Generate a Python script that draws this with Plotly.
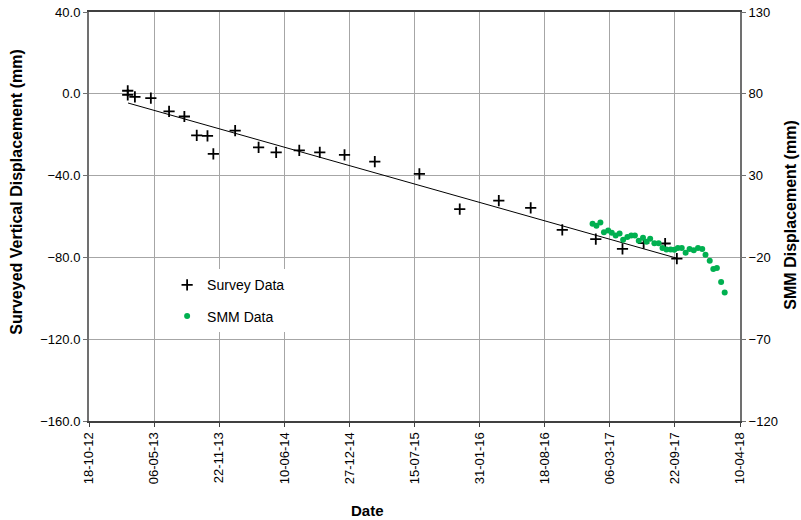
import plotly.graph_objects as go

# ---- data ----
survey_dates = ["2013-02-14", "2013-02-14", "2013-03-08", "2013-04-26", "2013-06-21",
                "2013-08-07", "2013-09-14", "2013-10-17", "2013-11-04", "2014-01-10",
                "2014-03-23", "2014-05-16", "2014-07-26", "2014-09-27", "2014-12-12",
                "2015-03-15", "2015-07-30", "2015-12-01", "2016-03-30", "2016-07-06",
                "2016-10-11", "2017-01-22", "2017-04-14", "2017-06-18", "2017-08-23",
                "2017-09-28"]
survey_vals = [1.5, -0.5, -1.5, -2.1, -8.6, -11.1, -20.3, -20.6, -29.4, -18.0,
               -26.2, -28.6, -27.7, -28.6, -29.9, -33.2, -39.2, -56.4, -52.2, -55.8,
               -66.5, -71.1, -75.8, -73.0, -73.2, -80.6]

trend_dates = ["2013-02-15", "2017-09-26"]
trend_vals = [-4.5, -80.3]

smm_dates = ["2017-01-12", "2017-01-24", "2017-02-05", "2017-02-16", "2017-03-01",
             "2017-03-12", "2017-03-24", "2017-04-05", "2017-04-16", "2017-04-29",
             "2017-05-11", "2017-05-22", "2017-06-03", "2017-06-16", "2017-06-27",
             "2017-07-08", "2017-07-21", "2017-08-03", "2017-08-15", "2017-08-27",
             "2017-09-09", "2017-09-20", "2017-10-01", "2017-10-13", "2017-10-25",
             "2017-11-06", "2017-11-19", "2017-12-02", "2017-12-15", "2017-12-25",
             "2018-01-07", "2018-01-18", "2018-01-29", "2018-02-11", "2018-02-22"]
smm_vals = [0.5, -0.7, 1.3, -4.6, -3.5, -4.9, -6.6, -5.4, -9.2, -7.6,
            -6.6, -6.6, -9.8, -8.0, -10.4, -8.6, -11.3, -11.3, -14.3, -15.1,
            -15.1, -15.3, -14.3, -14.3, -17.1, -14.9, -15.6, -14.3, -14.9, -18.4,
            -22.0, -27.1, -26.5, -35.1, -41.5]

x_tick_dates = ["2012-10-18", "2013-05-06", "2013-11-22", "2014-06-10", "2014-12-27",
                "2015-07-15", "2016-01-31", "2016-08-18", "2017-03-06", "2017-09-22",
                "2018-04-10"]
x_tick_labels = ["18-10-12", "06-05-13", "22-11-13", "10-06-14", "27-12-14",
                 "15-07-15", "31-01-16", "18-08-16", "06-03-17", "22-09-17",
                 "10-04-18"]

FONT = "Liberation Sans, Arial, sans-serif"

fig = go.Figure()

fig.add_trace(go.Scatter(
    x=trend_dates, y=trend_vals, mode="lines",
    line=dict(color="black", width=1), showlegend=False, hoverinfo="skip"))

fig.add_trace(go.Scatter(
    x=survey_dates, y=survey_vals, mode="markers", name="Survey Data",
    legendgroup="a",
    marker=dict(symbol="cross-thin", size=8, line=dict(color="black", width=1.8), color="black")))

fig.add_trace(go.Scatter(
    x=smm_dates, y=smm_vals, mode="markers", name="SMM Data", yaxis="y2",
    legendgroup="b",
    marker=dict(symbol="circle", size=6, color="#00b050")))

fig.update_layout(
    width=801, height=520,
    margin=dict(l=89, r=61, t=12, b=99, autoexpand=False),
    paper_bgcolor="white", plot_bgcolor="white",
    font=dict(family=FONT, size=13, color="black"),
    xaxis=dict(
        type="date", range=[x_tick_dates[0], x_tick_dates[-1]],
        tickvals=x_tick_dates, ticktext=x_tick_labels, tickangle=-90,
        showgrid=True, gridcolor="#a6a6a6", gridwidth=1,
        showline=True, linecolor="#404040", linewidth=2, mirror=True,
        ticks="outside", ticklen=4, tickcolor="#404040",
        tickfont=dict(family=FONT, size=13, color="black"),
        zeroline=False, automargin=False),
    yaxis=dict(
        range=[-160, 40], tick0=-160, dtick=40, tickformat=".1f",
        showgrid=True, gridcolor="#a6a6a6", gridwidth=1,
        showline=True, linecolor="#707070", linewidth=2,
        ticks="outside", ticklen=4, tickcolor="#707070",
        tickfont=dict(family=FONT, size=13, color="black"),
        zeroline=False, automargin=False),
    yaxis2=dict(
        range=[-120, 130], tick0=-120, dtick=50, overlaying="y", side="right",
        showgrid=False, showline=True, linecolor="#707070", linewidth=2,
        ticks="outside", ticklen=4, tickcolor="#707070",
        tickfont=dict(family=FONT, size=13, color="black"),
        zeroline=False, automargin=False),
    legend=dict(
        x=0.12, y=0.371, xanchor="left", yanchor="top",
        bgcolor="white", borderwidth=0,
        font=dict(family=FONT, size=14, color="black"),
        traceorder="grouped", tracegroupgap=10),
    annotations=[
        dict(text="<b>Date</b>", xref="paper", yref="paper", x=0.428, y=-0.218,
             xanchor="center", yanchor="middle", showarrow=False,
             font=dict(family=FONT, size=15, color="black")),
        dict(text="<b>Surveyed Vertical Displacement (mm)</b>", xref="paper", yref="paper",
             x=-0.111, y=0.56, xanchor="center", yanchor="middle", textangle=-90,
             showarrow=False, font=dict(family=FONT, size=16, color="black")),
        dict(text="<b>SMM Displacement (mm)</b>", xref="paper", yref="paper",
             x=1.078, y=0.504, xanchor="center", yanchor="middle", textangle=-90,
             showarrow=False, font=dict(family=FONT, size=16, color="black")),
    ],
)

fig.write_html("out.html", config={"displayModeBar": False},
               post_script="document.body.style.margin='0';document.body.style.overflow='hidden';")
